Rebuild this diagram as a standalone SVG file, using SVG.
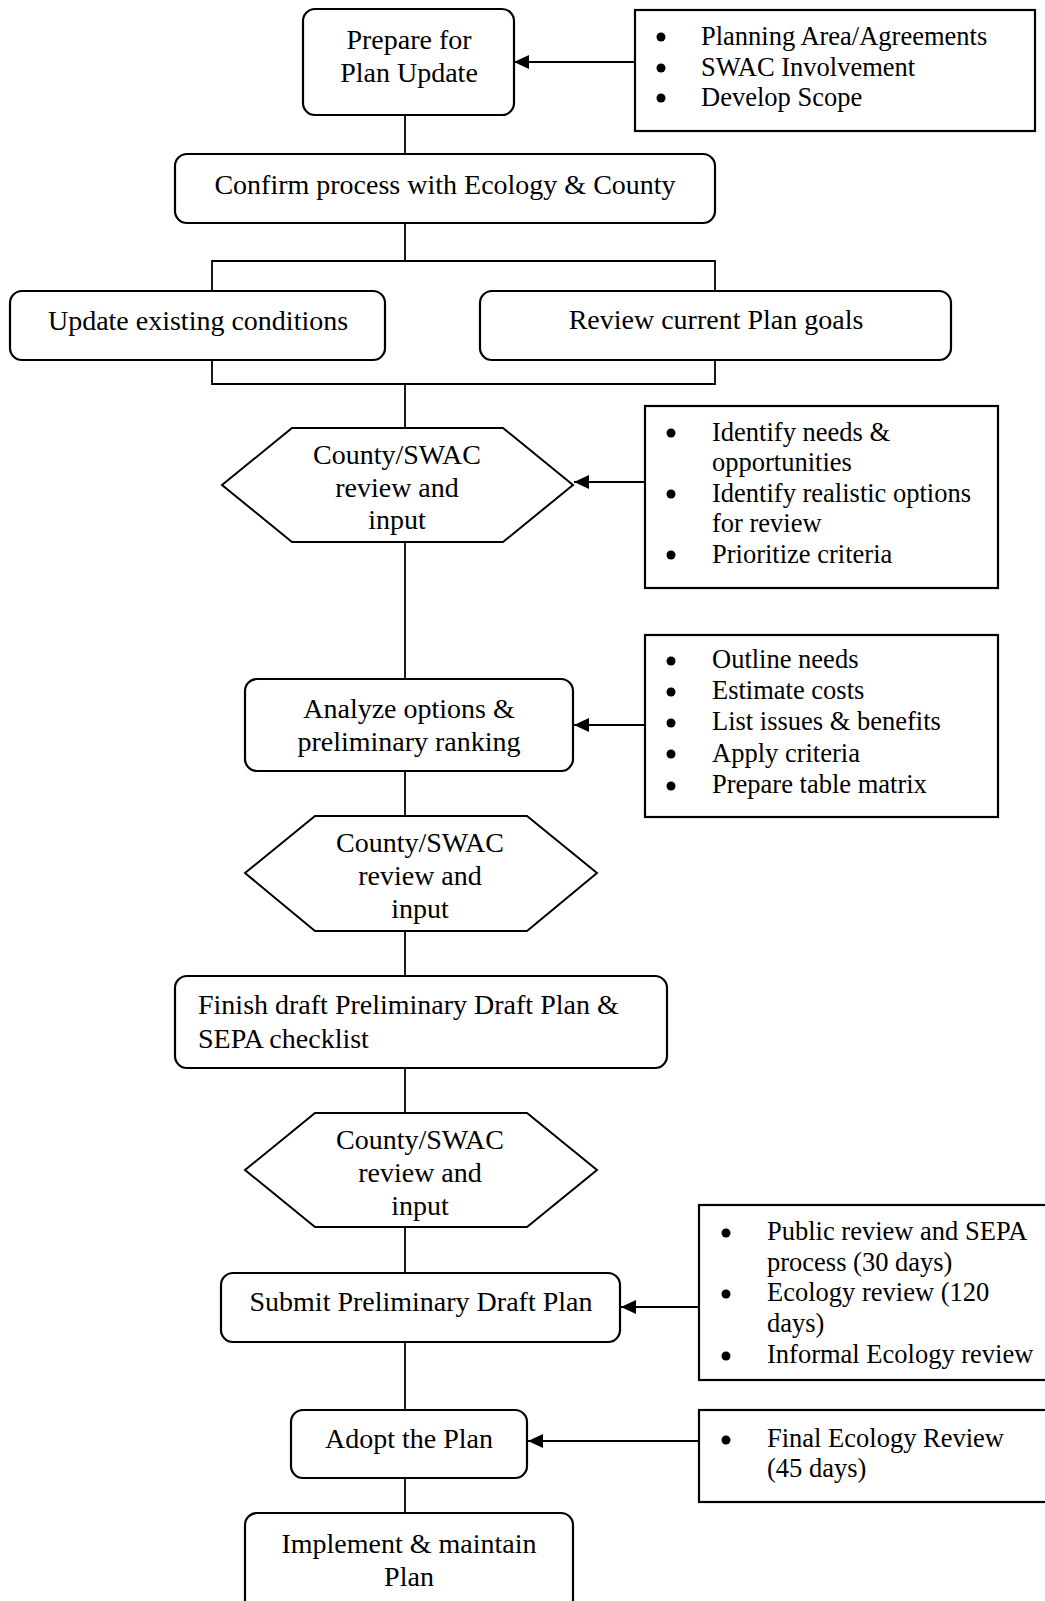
<svg xmlns="http://www.w3.org/2000/svg" width="1045" height="1601" viewBox="0 0 1045 1601">
<defs>
<style>
.box{fill:#fff;stroke:#000;stroke-width:2.2}
.note{fill:#fff;stroke:#000;stroke-width:2.2}
.hex{fill:#fff;stroke:#000;stroke-width:2}
.t{font-family:"Liberation Serif","Times New Roman",serif;font-size:28px;fill:#000;text-anchor:middle}
.tl{font-family:"Liberation Serif","Times New Roman",serif;font-size:28px;fill:#000}
.b{font-family:"Liberation Serif","Times New Roman",serif;font-size:26.5px;fill:#000}
.dot{fill:#000}
.c{stroke:#000;stroke-width:1.8;fill:none}
</style>
<marker id="ah" markerUnits="userSpaceOnUse" markerWidth="16" markerHeight="14" refX="15" refY="7" orient="auto">
<path d="M0,0 L15,7 L0,14 Z" fill="#000"/>
</marker>
</defs>
<rect width="1045" height="1601" fill="#fff"/>

<g id="connectors">
<line class="c" x1="405" y1="115" x2="405" y2="154"/>
<line class="c" x1="405" y1="223" x2="405" y2="261"/>
<polyline class="c" points="212,291 212,261 715,261 715,291"/>
<polyline class="c" points="212,360 212,384 715,384 715,360"/>
<line class="c" x1="405" y1="384" x2="405" y2="428"/>
<line class="c" x1="405" y1="542" x2="405" y2="679"/>
<line class="c" x1="405" y1="771" x2="405" y2="816"/>
<line class="c" x1="405" y1="931" x2="405" y2="976"/>
<line class="c" x1="405" y1="1068" x2="405" y2="1113"/>
<line class="c" x1="405" y1="1227" x2="405" y2="1273"/>
<line class="c" x1="405" y1="1342" x2="405" y2="1410"/>
<line class="c" x1="405" y1="1478" x2="405" y2="1513"/>
<line class="c" x1="635" y1="62" x2="514" y2="62" marker-end="url(#ah)"/>
<line class="c" x1="645" y1="482" x2="574" y2="482" marker-end="url(#ah)"/>
<line class="c" x1="645" y1="725" x2="574" y2="725" marker-end="url(#ah)"/>
<line class="c" x1="699" y1="1307" x2="621" y2="1307" marker-end="url(#ah)"/>
<line class="c" x1="699" y1="1441" x2="528" y2="1441" marker-end="url(#ah)"/>
</g>

<g id="prepare">
<rect class="box" x="303" y="9" width="211" height="106" rx="12"/>
<text class="t" x="409" y="49">Prepare for</text>
<text class="t" x="409" y="82">Plan Update</text>
</g>

<g id="note1">
<rect class="note" x="635" y="10" width="400" height="121"/>
<circle class="dot" cx="661" cy="37" r="4.5"/>
<circle class="dot" cx="661" cy="68" r="4.5"/>
<circle class="dot" cx="661" cy="98" r="4.5"/>
<text class="b" x="701" y="45">Planning Area/Agreements</text>
<text class="b" x="701" y="76">SWAC Involvement</text>
<text class="b" x="701" y="106">Develop Scope</text>
</g>

<g id="confirm">
<rect class="box" x="175" y="154" width="540" height="69" rx="12"/>
<text class="t" x="445" y="194">Confirm process with Ecology &amp; County</text>
</g>

<g id="update">
<rect class="box" x="10" y="291" width="375" height="69" rx="12"/>
<text class="t" x="198" y="330">Update existing conditions</text>
</g>

<g id="review">
<rect class="box" x="480" y="291" width="471" height="69" rx="12"/>
<text class="t" x="716" y="329">Review current Plan goals</text>
</g>

<g id="hex1">
<polygon class="hex" points="222,485 292,428 503,428 573,485 503,542 292,542"/>
<text class="t" x="397" y="464">County/SWAC</text>
<text class="t" x="397" y="497">review and</text>
<text class="t" x="397" y="529">input</text>
</g>

<g id="note2">
<rect class="note" x="645" y="406" width="353" height="182"/>
<circle class="dot" cx="671" cy="433" r="4.5"/>
<circle class="dot" cx="671" cy="494" r="4.5"/>
<circle class="dot" cx="671" cy="555" r="4.5"/>
<text class="b" x="712" y="441">Identify needs &amp;</text>
<text class="b" x="712" y="471">opportunities</text>
<text class="b" x="712" y="502">Identify realistic options</text>
<text class="b" x="712" y="532">for review</text>
<text class="b" x="712" y="563">Prioritize criteria</text>
</g>

<g id="analyze">
<rect class="box" x="245" y="679" width="328" height="92" rx="12"/>
<text class="t" x="409" y="718">Analyze options &amp;</text>
<text class="t" x="409" y="751">preliminary ranking</text>
</g>

<g id="note3">
<rect class="note" x="645" y="635" width="353" height="182"/>
<circle class="dot" cx="671" cy="661" r="4.5"/>
<circle class="dot" cx="671" cy="692" r="4.5"/>
<circle class="dot" cx="671" cy="723" r="4.5"/>
<circle class="dot" cx="671" cy="754" r="4.5"/>
<circle class="dot" cx="671" cy="786" r="4.5"/>
<text class="b" x="712" y="668">Outline needs</text>
<text class="b" x="712" y="699">Estimate costs</text>
<text class="b" x="712" y="730">List issues &amp; benefits</text>
<text class="b" x="712" y="762">Apply criteria</text>
<text class="b" x="712" y="793">Prepare table matrix</text>
</g>

<g id="hex2">
<polygon class="hex" points="245,873 315,816 527,816 597,873 527,931 315,931"/>
<text class="t" x="420" y="852">County/SWAC</text>
<text class="t" x="420" y="885">review and</text>
<text class="t" x="420" y="918">input</text>
</g>

<g id="finish">
<rect class="box" x="175" y="976" width="492" height="92" rx="12"/>
<text class="tl" x="198" y="1014">Finish draft Preliminary Draft Plan &amp;</text>
<text class="tl" x="198" y="1048">SEPA checklist</text>
</g>

<g id="hex3">
<polygon class="hex" points="245,1170 315,1113 527,1113 597,1170 527,1227 315,1227"/>
<text class="t" x="420" y="1149">County/SWAC</text>
<text class="t" x="420" y="1182">review and</text>
<text class="t" x="420" y="1215">input</text>
</g>

<g id="submit">
<rect class="box" x="221" y="1273" width="399" height="69" rx="12"/>
<text class="t" x="421" y="1311">Submit Preliminary Draft Plan</text>
</g>

<g id="note4">
<rect class="note" x="699" y="1205" width="360" height="175"/>
<circle class="dot" cx="726" cy="1233" r="4.5"/>
<circle class="dot" cx="726" cy="1294" r="4.5"/>
<circle class="dot" cx="726" cy="1356" r="4.5"/>
<text class="b" x="767" y="1240">Public review and SEPA</text>
<text class="b" x="767" y="1271">process (30 days)</text>
<text class="b" x="767" y="1301">Ecology review (120</text>
<text class="b" x="767" y="1332">days)</text>
<text class="b" x="767" y="1363">Informal Ecology review</text>
</g>

<g id="adopt">
<rect class="box" x="291" y="1410" width="236" height="68" rx="12"/>
<text class="t" x="409" y="1448">Adopt the Plan</text>
</g>

<g id="note5">
<rect class="note" x="699" y="1410" width="360" height="92"/>
<circle class="dot" cx="726" cy="1440" r="4.5"/>
<text class="b" x="767" y="1447">Final Ecology Review</text>
<text class="b" x="767" y="1477">(45 days)</text>
</g>

<g id="implement">
<rect class="box" x="245" y="1513" width="328" height="100" rx="12"/>
<text class="t" x="409" y="1553">Implement &amp; maintain</text>
<text class="t" x="409" y="1586">Plan</text>
</g>
</svg>
